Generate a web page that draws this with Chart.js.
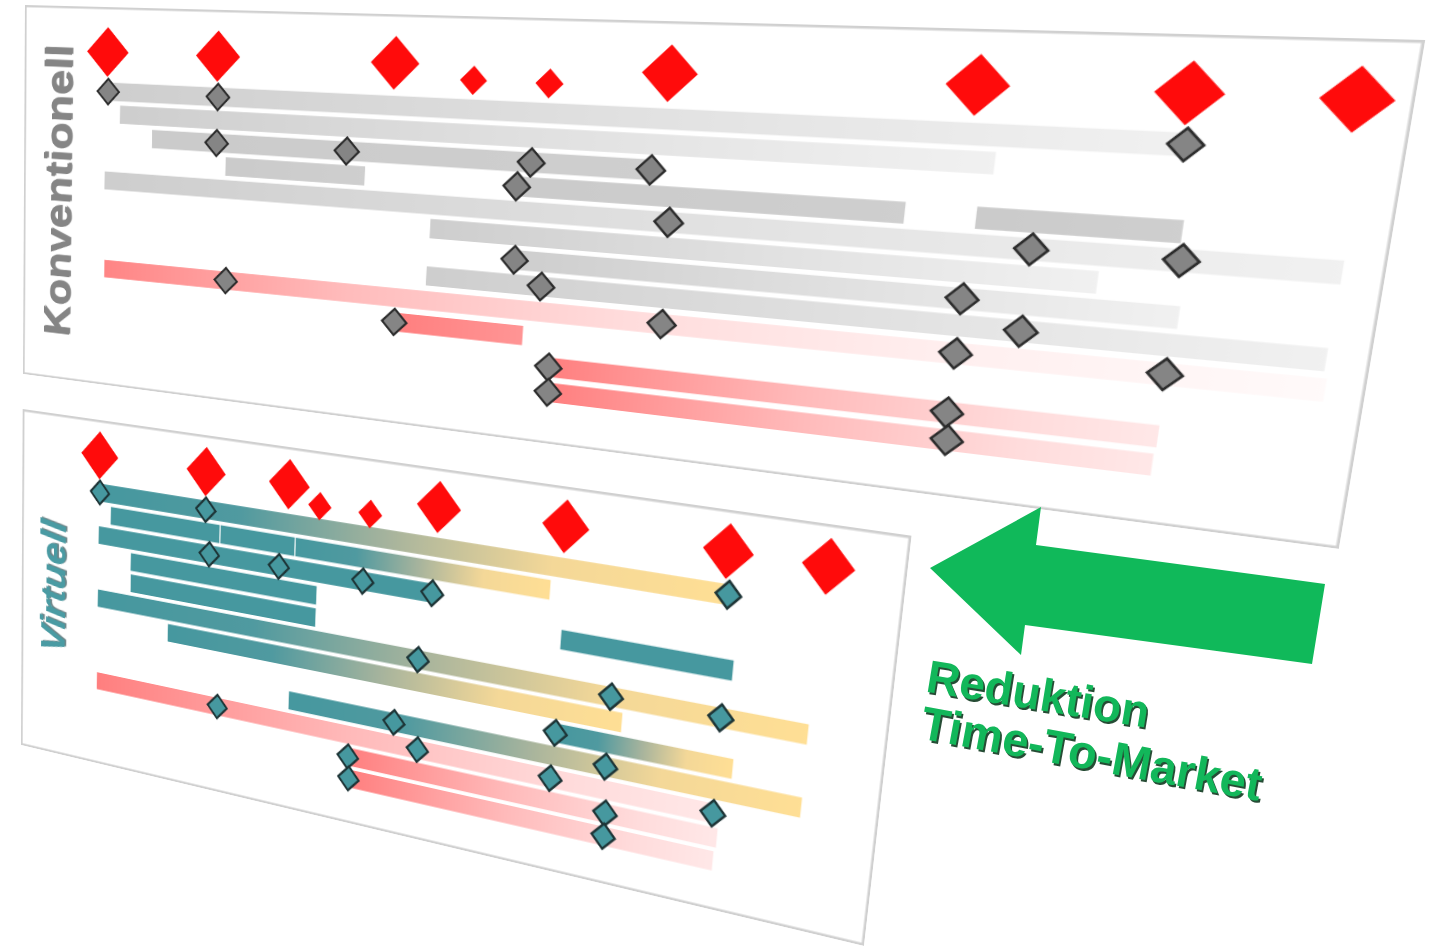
<!DOCTYPE html>
<html lang="de">
<head>
<meta charset="utf-8">
<title>Konventionell vs. Virtuell – Reduktion Time-To-Market</title>
<script src="https://cdn.jsdelivr.net/npm/chart.js@4.4.1/dist/chart.umd.min.js"></script>
<style>
  html, body { margin: 0; padding: 0; background: #fff; }
  body { width: 1432px; height: 948px; position: relative; overflow: hidden;
         font-family: "Liberation Sans", Arial, sans-serif; }
  .panel { position: absolute; left: 0; top: 0; transform-origin: 0 0; background: #fff; }
  .panel canvas { position: absolute; left: 0; top: 0; }
  .side { position: absolute; white-space: nowrap; font-weight: bold; line-height: 1; }
  #lblKonv { font-size: 52px; color: #858585;
             text-shadow: 1px 2px 1px rgba(40,40,40,0.55);
             transform: translate(-50%, -50%) rotate(-90deg) scaleY(1.0); }
  #lblVirt { font-size: 43px; font-style: italic; color: #4a9ba3;
             text-shadow: 1px 2px 1px rgba(10,50,55,0.6);
             transform: translate(-50%, -50%) rotate(-90deg) scaleY(1.15); }
  #arrow { position: absolute; left: 0; top: 0; }
  .claim { position: absolute; white-space: nowrap; font-weight: bold;
           line-height: 1; color: #12b75a; transform-origin: 0 0;
           text-shadow: 2px 2px 0 rgba(0,45,18,0.85); }
</style>
</head>
<body>

<div id="panelKonv" class="panel">
  <canvas id="chartKonv"></canvas>
  <div id="lblKonv" class="side">Konventionell</div>
</div>

<div id="panelVirt" class="panel">
  <canvas id="chartVirt"></canvas>
  <div id="lblVirt" class="side">Virtuell</div>
</div>

<svg id="arrow" width="1432" height="948">
  <polygon points="930,568 1041,507 1036,545 1325,584 1312,664 1025,625 1021,655" fill="#10b95a"/>
</svg>
<div class="claim" style="left:931px; top:653px; font-size:46px; transform: rotate(9.3deg);">Reduktion</div>
<div class="claim" style="left:926px; top:699px; font-size:47px; transform: rotate(10.4deg);">Time-To-Market</div>

<script>
// ---------- Konventionell: time axis 0–100 (% of project span), rows = work packages ----------
const konvGateLevel      = -1.75;   // row of the quality-gate diamonds
const konvGateLevelSmall = -1.17;
const konvGatesBig   = [8.2, 18.5, 33.8, 54.9, 75.4, 87.9, 97.0];
const konvGatesSmall = [40.2, 46.1];

const konvBarRow   = [0, 1, 2, 3, 3, 3, 4, 5, 6, 7, 8.05, 9.1, 10.3, 11.35];
const konvBarStart = [8.5, 9.5, 12.6, 19.5, 44.1, 76.3, 8.1, 37.4, 44.3, 37.3, 8.2, 34.8, 47.5, 47.6];
const konvBarEnd   = [88.0, 77.0, 54.1, 31.7, 71.7, 88.6, 97.7, 84.1, 89.1, 97.6, 97.8, 45.3, 88.9, 88.8];
const konvBarKind  = ['grau', 'grau', 'grauVoll', 'grauVoll', 'grauVoll', 'grauVoll', 'grau',
                      'grau', 'grau', 'grau', 'rotLang', 'rotKurz', 'rot', 'rot'];

const konvMsRow = [0, 0, 0, 2, 2, 2, 2, 3, 4, 4, 4, 6, 6, 7, 7,
                   8.05, 8.05, 8.05, 8.05, 9.1, 10.3, 10.3, 11.35, 11.35];
const konvMsX   = [8.3, 18.6, 88.1, 18.6, 30.1, 45.1, 54.1, 44.1, 55.7, 79.9, 88.8, 44.3, 76.0, 46.5, 79.9,
                   19.8, 55.8, 76.0, 88.8, 34.8, 47.5, 75.9, 47.6, 76.1];

// ---------- Virtuell ----------
const virtGateLevel      = -1.72;
const virtGateLevelSmall = -0.97;
const virtGatesBig   = [10.7, 24.7, 35.1, 52.7, 66.6, 83.2, 92.8];
const virtGatesSmall = [38.9, 44.9];

const virtBarRow   = [0, 1, 1, 1, 2, 3, 3, 4, 5, 6, 7, 8, 9, 10, 11];
const virtBarStart = [10.8, 12.35, 26.8, 36.2, 10.75, 15.15, 67.0, 15.2, 10.75, 20.3, 67.1, 36.1, 10.8, 43.6, 43.8];
const virtBarEnd   = [83.6, 26.6, 36.0, 65.4, 52.5, 38.9, 84.7, 38.9, 92.5, 74.0, 85.6, 92.6, 84.3, 84.7, 84.5];
const virtBarKind  = ['verlauf', 'teal', 'teal', 'verlauf', 'teal', 'teal', 'teal', 'teal',
                      'verlauf', 'verlauf', 'verlauf', 'verlauf', 'rot', 'rot', 'rot'];

const virtMsRow = [0, 0, 0, 2, 2, 2, 2, 5, 5, 5, 7, 8, 8, 9, 9, 9, 9, 10, 10, 11, 11];
const virtMsX   = [10.8, 24.8, 83.6, 25.4, 34.2, 44.4, 52.5, 51.3, 72.7, 84.0, 67.1, 48.9, 72.7,
                   27.0, 51.8, 66.9, 84.1, 43.6, 73.05, 43.8, 73.05];

// ---------- bar fills (gradient stops along each bar) ----------
const barStops = {
  grau:     [[0, '#cecece'], [1, '#f1f1f1']],
  grauVoll: [[0, '#cbcbcb'], [1, '#cfcfcf']],
  rotLang:  [[0, '#ff8585'], [0.25, '#ffbcbc'], [0.5, '#ffdcdc'], [0.75, '#ffefef'], [1, '#fffafa']],
  rotKurz:  [[0, '#ff7f7f'], [1, '#ff9595']],
  rot:      [[0, '#ff7f7f'], [0.45, '#ffbaba'], [0.8, '#ffdcdc'], [1, '#ffe8e8']],
  teal:     [[0, '#46989f'], [1, '#46989f']],
  verlauf:  [[0, '#46989f'], [0.25, '#509aa0'], [0.5, '#a7b49d'], [0.75, '#f4d898'], [1, '#ffdf95']]
};

// map a flat W x H panel onto a quadrilateral (TL, TR, BR, BL) with a projective transform
function quadMatrix(w, h, q) {
  const [[x0, y0], [x1, y1], [x2, y2], [x3, y3]] = q;
  const dx1 = x1 - x2, dx2 = x3 - x2, dx3 = x0 - x1 + x2 - x3;
  const dy1 = y1 - y2, dy2 = y3 - y2, dy3 = y0 - y1 + y2 - y3;
  const det = dx1 * dy2 - dx2 * dy1;
  const g = (dx3 * dy2 - dx2 * dy3) / det;
  const k = (dx1 * dy3 - dx3 * dy1) / det;
  const a = x1 - x0 + g * x1, b = x3 - x0 + k * x3, c = x0;
  const d = y1 - y0 + g * y1, e = y3 - y0 + k * y3, f = y0;
  return `matrix3d(${a / w},${d / w},0,${g / w},${b / h},${e / h},0,${k / h},0,0,1,0,${c},${f},0,1)`;
}

const framePlugin = {
  id: 'frame',
  beforeDraw(chart) {
    const { ctx, width, height } = chart;
    ctx.save();
    ctx.fillStyle = '#ffffff';
    ctx.fillRect(0, 0, width, height);
    ctx.restore();
  },
  afterDraw(chart) {
    const { ctx, width, height } = chart;
    ctx.save();
    ctx.strokeStyle = '#d0d0d0';
    ctx.lineWidth = 2.5;
    ctx.strokeRect(1.25, 1.25, width - 2.5, height - 2.5);
    ctx.restore();
  }
};

function buildPanel(spec) {
  const panel = document.getElementById(spec.panelId);
  panel.style.width = spec.w + 'px';
  panel.style.height = spec.h + 'px';
  panel.style.transform = quadMatrix(spec.w, spec.h, spec.quad);

  const canvas = document.getElementById(spec.canvasId);
  canvas.width = spec.w;
  canvas.height = spec.h;
  canvas.style.width = spec.w + 'px';
  canvas.style.height = spec.h + 'px';

  const d = spec.data;
  const bars = d.barRow.map((r, i) => ({ x: [d.barStart[i], d.barEnd[i]], y: r }));
  const ms = d.msRow.map((r, i) => ({ x: d.msX[i], y: r }));
  const gatesBig = d.gatesBig.map(x => ({ x, y: d.gateLevel }));
  const gatesSmall = d.gatesSmall.map(x => ({ x, y: d.gateLevelSmall }));

  const barFill = (ctx) => {
    if (ctx.type !== 'data') return '#cccccc';
    const chart = ctx.chart, xs = chart.scales.x, i = ctx.dataIndex;
    const stops = barStops[d.barKind[i]];
    if (!xs || !chart.chartArea) return stops[0][1];
    const p0 = xs.getPixelForValue(d.barStart[i]);
    const p1 = xs.getPixelForValue(d.barEnd[i]);
    const grad = chart.ctx.createLinearGradient(p0, 0, p1, 0);
    stops.forEach(([o, c]) => grad.addColorStop(o, c));
    return grad;
  };

  return new Chart(canvas, {
    type: 'bar',
    data: {
      datasets: [
        { type: 'scatter', order: 1, data: gatesBig, pointStyle: 'rectRot',
          pointRadius: spec.gateR, pointBackgroundColor: '#ff0b0b', pointBorderWidth: 0 },
        { type: 'scatter', order: 1, data: gatesSmall, pointStyle: 'rectRot',
          pointRadius: spec.gateSmallR, pointBackgroundColor: '#ff0b0b', pointBorderWidth: 0 },
        { type: 'scatter', order: 2, data: ms, pointStyle: 'rectRot',
          pointRadius: spec.msR, pointBackgroundColor: spec.msFill,
          pointBorderColor: spec.msBorder, pointBorderWidth: 2.4 },
        { type: 'bar', order: 3, indexAxis: 'y', data: bars, barThickness: spec.thick,
          backgroundColor: barFill, borderWidth: 0 }
      ]
    },
    options: {
      responsive: false,
      devicePixelRatio: 2,
      animation: false,
      events: [],
      layout: { padding: 0, autoPadding: false },
      plugins: { legend: { display: false }, tooltip: { enabled: false } },
      scales: {
        x: { type: 'linear', min: 0, max: 100, offset: false, grace: 0,
             beginAtZero: false, display: false },
        y: { type: 'linear', min: spec.yMin, max: spec.yMax, offset: false, grace: 0,
             beginAtZero: false, reverse: true, display: false }
      }
    },
    plugins: [framePlugin]
  });
}

// flat panel size, screen corners and row range
buildPanel({
  panelId: 'panelKonv', canvasId: 'chartKonv', w: 1400, h: 440,
  quad: [[25, 5], [1425.5, 40], [1339, 549], [23, 374]],
  yMin: -3.724, yMax: 13.517, thick: 20, gateR: 28, gateSmallR: 15, msR: 14.5,
  msFill: '#858585', msBorder: '#2b2b2b',
  data: { gateLevel: konvGateLevel, gateLevelSmall: konvGateLevelSmall,
          gatesBig: konvGatesBig, gatesSmall: konvGatesSmall,
          barRow: konvBarRow, barStart: konvBarStart, barEnd: konvBarEnd, barKind: konvBarKind,
          msRow: konvMsRow, msX: konvMsX }
});

buildPanel({
  panelId: 'panelVirt', canvasId: 'chartVirt', w: 1000, h: 370,
  quad: [[22.7, 409], [911.7, 535.7], [864, 946], [21, 745]],
  yMin: -3.35, yMax: 13.07, thick: 18, gateR: 25, gateSmallR: 14, msR: 12.5,
  msFill: '#46989f', msBorder: '#1d3436',
  data: { gateLevel: virtGateLevel, gateLevelSmall: virtGateLevelSmall,
          gatesBig: virtGatesBig, gatesSmall: virtGatesSmall,
          barRow: virtBarRow, barStart: virtBarStart, barEnd: virtBarEnd, barKind: virtBarKind,
          msRow: virtMsRow, msX: virtMsX }
});

// side labels sit in the flat panel space
const lk = document.getElementById('lblKonv');
lk.style.left = '47.6px'; lk.style.top = '216px';
const lv = document.getElementById('lblVirt');
lv.style.left = '44.5px'; lv.style.top = '184.5px';
</script>
</body>
</html>
